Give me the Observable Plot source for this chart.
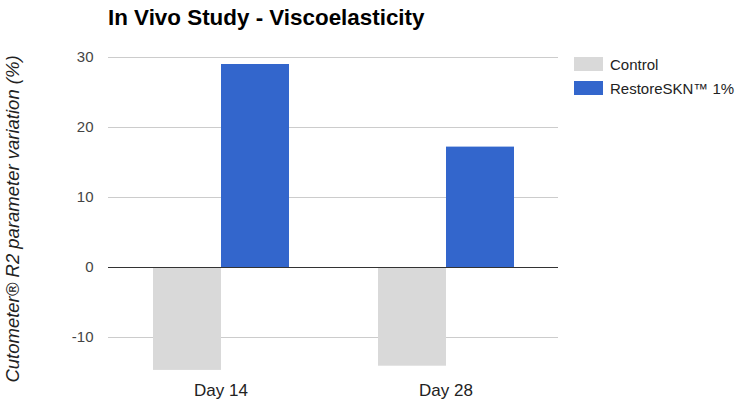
<!DOCTYPE html>
<html>
<head>
<meta charset="utf-8">
<script src="https://cdn.jsdelivr.net/npm/d3@7"></script>
<script src="https://cdn.jsdelivr.net/npm/@observablehq/plot@0.6"></script>
<style>
  body { margin: 0; background: #fff; font-family: "Liberation Sans", Arial, sans-serif; }
  #wrap { position: relative; width: 735px; height: 404px; }
  #title { position: absolute; left: 108px; top: 5px; font-size: 22.4px; font-weight: bold; color: #000; white-space: nowrap; }
  #ylabel { position: absolute; left: 13px; top: 219px; transform: translate(-50%, -50%) rotate(-90deg);
            font-size: 18.5px; font-style: italic; color: #222; white-space: nowrap; line-height: 1; }
  #legend { position: absolute; left: 574px; top: 52px; font-size: 15px; color: #222; }
  .item { display: flex; align-items: center; height: 24px; }
  .sw { width: 29px; height: 14px; margin-right: 7px; }
  svg { position: absolute; left: 0; top: 0; }
</style>
</head>
<body>
<div id="wrap">
  <div id="title">In Vivo Study - Viscoelasticity</div>
  <div id="legend"></div>
</div>
<script>
// Time points and treatment groups
const days = ["Day 14", "Day 28"];
const series = ["Control", "RestoreSKN™ 1%"];
const colors = ["#d9d9d9", "#3366cc"];
// Variation (%) of the R2 parameter per group
const controlValues = [-14.7, -14.1];
const restoreValues = [29, 17.2];
const yTicks = [-10, 0, 10, 20, 30];
const yTitle = "Cutometer® R2 parameter variation (%)";

const rows = [];
days.forEach((d, i) => {
  rows.push({day: d, series: series[0], value: controlValues[i]});
  rows.push({day: d, series: series[1], value: restoreValues[i]});
});

const chart = Plot.plot({
  width: 735,
  height: 404,
  marginLeft: 108,
  marginRight: 177,
  marginTop: 57,
  marginBottom: 32,
  style: {fontFamily: "Liberation Sans, Arial, sans-serif", fontSize: "15px", color: "#444"},
  fx: {domain: days, padding: 0, label: null},
  x: {domain: series, axis: null, paddingInner: 0, paddingOuter: 0.654},
  y: {domain: [-15, 30], label: null},
  color: {domain: series, range: colors},
  marks: [
    Plot.ruleY(yTicks.filter(t => t !== 0), {stroke: "#cccccc", strokeOpacity: 1}),
    Plot.barY(rows, {fx: "day", x: "series", y: "value", fill: "series"}),
    Plot.ruleY([0], {stroke: "#333333", strokeOpacity: 1}),
    Plot.axisY({
      ticks: yTicks,
      tickFormat: d => String(d),
      tickSize: 0,
      tickPadding: 15,
      fontSize: 15,
      fill: "#444",
      label: null
    }),
    Plot.axisFx({
      anchor: "bottom",
      tickSize: 0,
      tickPadding: 11,
      fontSize: 17,
      fill: "#222",
      label: null
    })
  ]
});
const wrap = document.getElementById("wrap");
wrap.insertBefore(chart, wrap.firstChild);

// Rotated y-axis title
const yl = document.createElement("div");
yl.id = "ylabel";
yl.textContent = yTitle;
wrap.appendChild(yl);

// Legend to the right of the plot
const legend = document.getElementById("legend");
series.forEach((s, i) => {
  const item = document.createElement("div");
  item.className = "item";
  const sw = document.createElement("div");
  sw.className = "sw";
  sw.style.background = colors[i];
  const label = document.createElement("span");
  label.textContent = s;
  item.appendChild(sw);
  item.appendChild(label);
  legend.appendChild(item);
});
</script>
</body>
</html>
